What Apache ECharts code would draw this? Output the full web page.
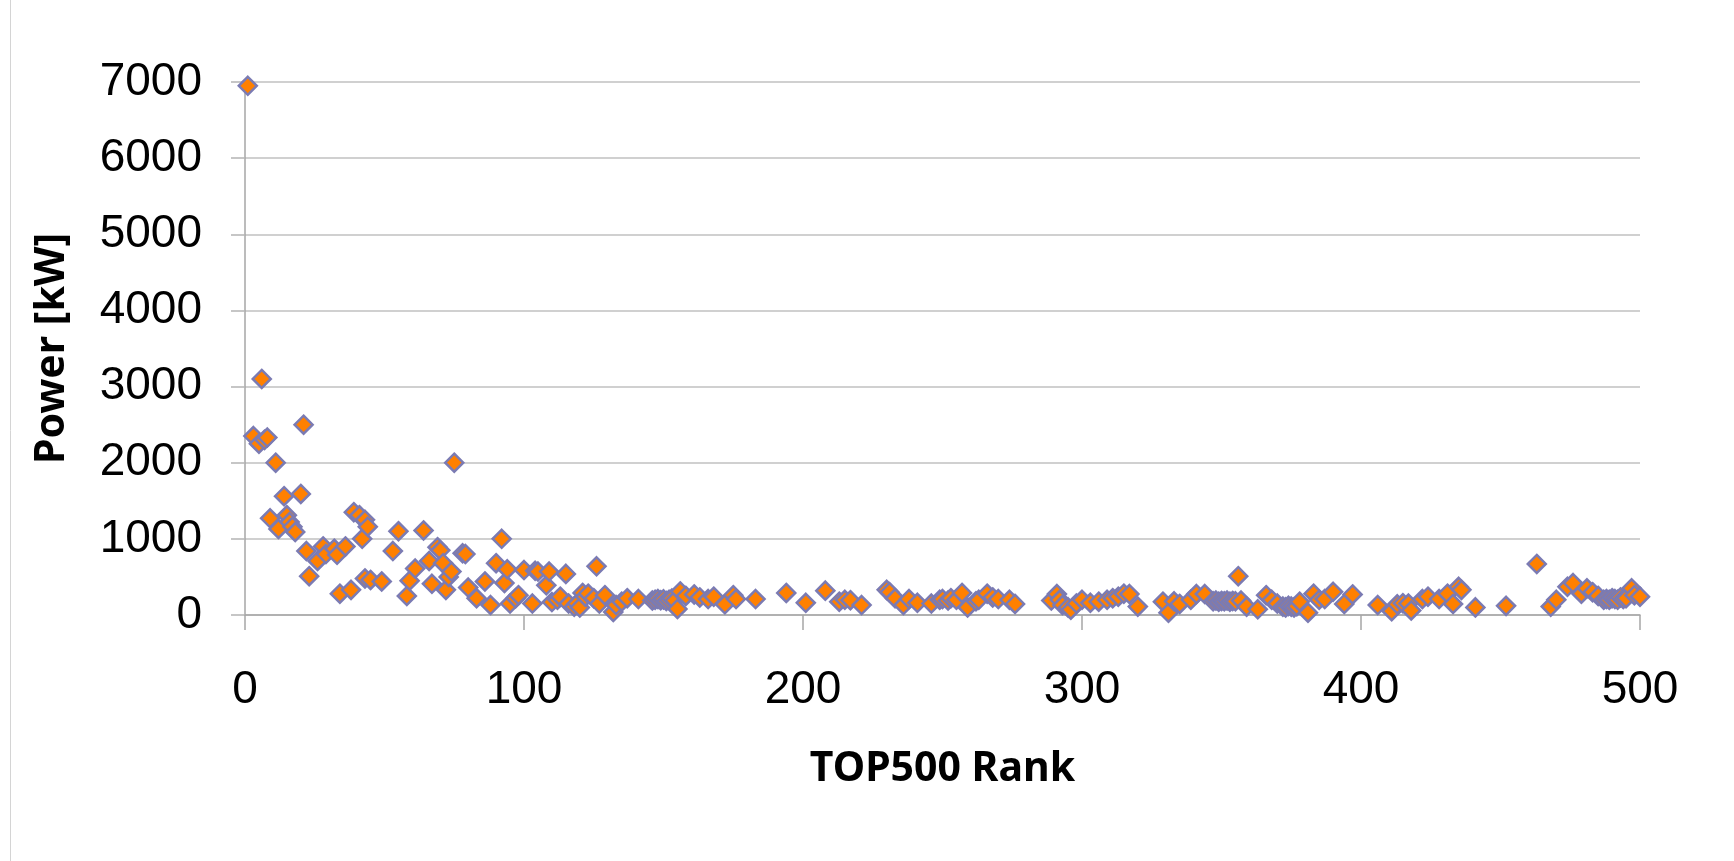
<!DOCTYPE html>
<html>
<head>
<meta charset="utf-8">
<script src="https://cdn.jsdelivr.net/npm/echarts@6/dist/echarts.min.js"></script>
<style>
  html, body { margin: 0; padding: 0; background: #fff; }
  #chart { width: 1734px; height: 861px; }
</style>
</head>
<body>
<div id="chart"></div>
<script>
const ranks = [
  1, 3, 5, 6, 7, 8, 9, 11, 12, 14, 15, 16, 17, 18, 20, 21, 22, 23, 26, 28,
  29, 32, 33, 34, 36, 38, 39, 41, 42, 43, 43, 44, 45, 49, 53, 55, 58, 59, 61, 64,
  66, 67, 69, 70, 71, 72, 73, 74, 75, 78, 79, 80, 83, 86, 88, 90, 92, 93, 94, 95,
  97, 98, 100, 103, 104, 105, 108, 109, 110, 112, 113, 115, 116, 118, 119, 120, 121, 122, 123, 125,
  126, 127, 129, 132, 133, 135, 137, 141, 146, 147, 148, 149, 150, 151, 152, 153, 154, 155, 156, 158,
  161, 163, 166, 168, 172, 175, 176, 183, 194, 201, 208, 213, 215, 217, 221, 230, 231, 233, 236, 238,
  241, 246, 249, 250, 252, 253, 255, 257, 259, 262, 263, 266, 268, 270, 274, 276, 289, 291, 292, 293,
  295, 296, 298, 300, 303, 306, 309, 311, 313, 315, 317, 320, 329, 331, 333, 335, 339, 341, 344, 347,
  348, 349, 350, 351, 352, 353, 354, 355, 356, 357, 359, 363, 366, 368, 370, 372, 373, 374, 375, 376,
  377, 378, 381, 383, 385, 387, 390, 394, 397, 406, 411, 413, 415, 417, 418, 422, 424, 428, 431, 433,
  435, 436, 441, 452, 463, 468, 470, 474, 476, 479, 481, 483, 485, 487, 488, 489, 490, 491, 492, 493,
  494, 495, 497, 498, 500
];
const power = [
  6950, 2350, 2250, 3100, 2300, 2330, 1270, 2000, 1130, 1560, 1310, 1220, 1160, 1090, 1590, 2500, 840, 510, 710, 900,
  800, 870, 790, 280, 900, 330, 1350, 1310, 1000, 1250, 480, 1160, 460, 440, 840, 1100, 250, 450, 610, 1110,
  710, 410, 890, 850, 680, 330, 500, 570, 2000, 810, 800, 360, 220, 440, 130, 680, 1000, 420, 600, 150,
  220, 260, 590, 150, 580, 570, 390, 570, 170, 200, 240, 540, 150, 110, 150, 100, 290, 240, 280, 220,
  640, 150, 260, 40, 130, 175, 220, 210, 190, 200, 210, 195, 205, 185, 200, 215, 190, 80, 310, 250,
  270, 230, 210, 240, 140, 260, 210, 210, 290, 160, 320, 175, 200, 195, 130, 330, 300, 220, 130, 210,
  160, 150, 200, 210, 190, 220, 200, 290, 100, 180, 200, 280, 230, 210, 200, 145, 190, 275, 200, 130,
  100, 70, 150, 200, 160, 175, 200, 220, 240, 280, 275, 110, 175, 30, 180, 145, 200, 275, 275, 180,
  190, 175, 185, 180, 190, 175, 185, 180, 510, 190, 110, 75, 260, 200, 150, 110, 100, 120, 110, 100,
  115, 175, 30, 280, 200, 210, 305, 145, 270, 130, 50, 140, 155, 150, 60, 210, 240, 210, 280, 145,
  370, 330, 100, 120, 670, 110, 200, 370, 420, 280, 350, 300, 250, 200, 210, 200, 220, 210, 200, 230,
  210, 220, 350, 260, 240
];
const xTicks = [0, 100, 200, 300, 400, 500];
const yTicks = [0, 1000, 2000, 3000, 4000, 5000, 6000, 7000];

const points = ranks.map((r, i) => [r, power[i]]);

const chart = echarts.init(document.getElementById('chart'));
chart.setOption({
  backgroundColor: '#fff',
  animation: false,
  grid: { left: 245, right: 94, top: 82, bottom: 246 },
  graphic: [
    {
      type: 'line',
      shape: { x1: 10.5, y1: 0, x2: 10.5, y2: 861 },
      style: { stroke: '#d4d4d4', lineWidth: 1 }
    }
  ],
  xAxis: {
    type: 'value',
    min: xTicks[0],
    max: xTicks[xTicks.length - 1],
    interval: 100,
    name: 'TOP500 Rank',
    nameLocation: 'middle',
    nameGap: 134,
    nameTextStyle: { fontFamily: 'Noto Sans', fontWeight: 'bold', fontSize: 41, color: '#000' },
    axisLine: { show: true, lineStyle: { color: '#a6a6a6', width: 1.5 } },
    axisTick: { show: true, length: 15, lineStyle: { color: '#a6a6a6', width: 1.5 } },
    axisLabel: { margin: 52, fontFamily: 'Liberation Sans', fontSize: 46, color: '#000', formatter: v => String(v) },
    splitLine: { show: false }
  },
  yAxis: {
    type: 'value',
    min: yTicks[0],
    max: yTicks[yTicks.length - 1],
    interval: 1000,
    name: 'Power [kW]',
    nameLocation: 'middle',
    nameGap: 172,
    nameTextStyle: { fontFamily: 'Noto Sans', fontWeight: 'bold', fontSize: 41, color: '#000' },
    axisLine: { show: true, lineStyle: { color: '#a6a6a6', width: 1.5 } },
    axisTick: { show: true, length: 14, lineStyle: { color: '#b4b4b4', width: 1.5 } },
    axisLabel: { margin: 43, fontFamily: 'Liberation Sans', fontSize: 46, color: '#000', formatter: v => String(v) },
    splitLine: { show: true, lineStyle: { color: '#c0c0c0', width: 1.5 } }
  },
  series: [
    {
      type: 'scatter',
      data: points,
      symbol: 'diamond',
      symbolSize: [18, 18],
      itemStyle: { color: '#ff8000', borderColor: '#7b7bb3', borderWidth: 2.5, opacity: 1 }
    }
  ]
});
</script>
</body>
</html>
